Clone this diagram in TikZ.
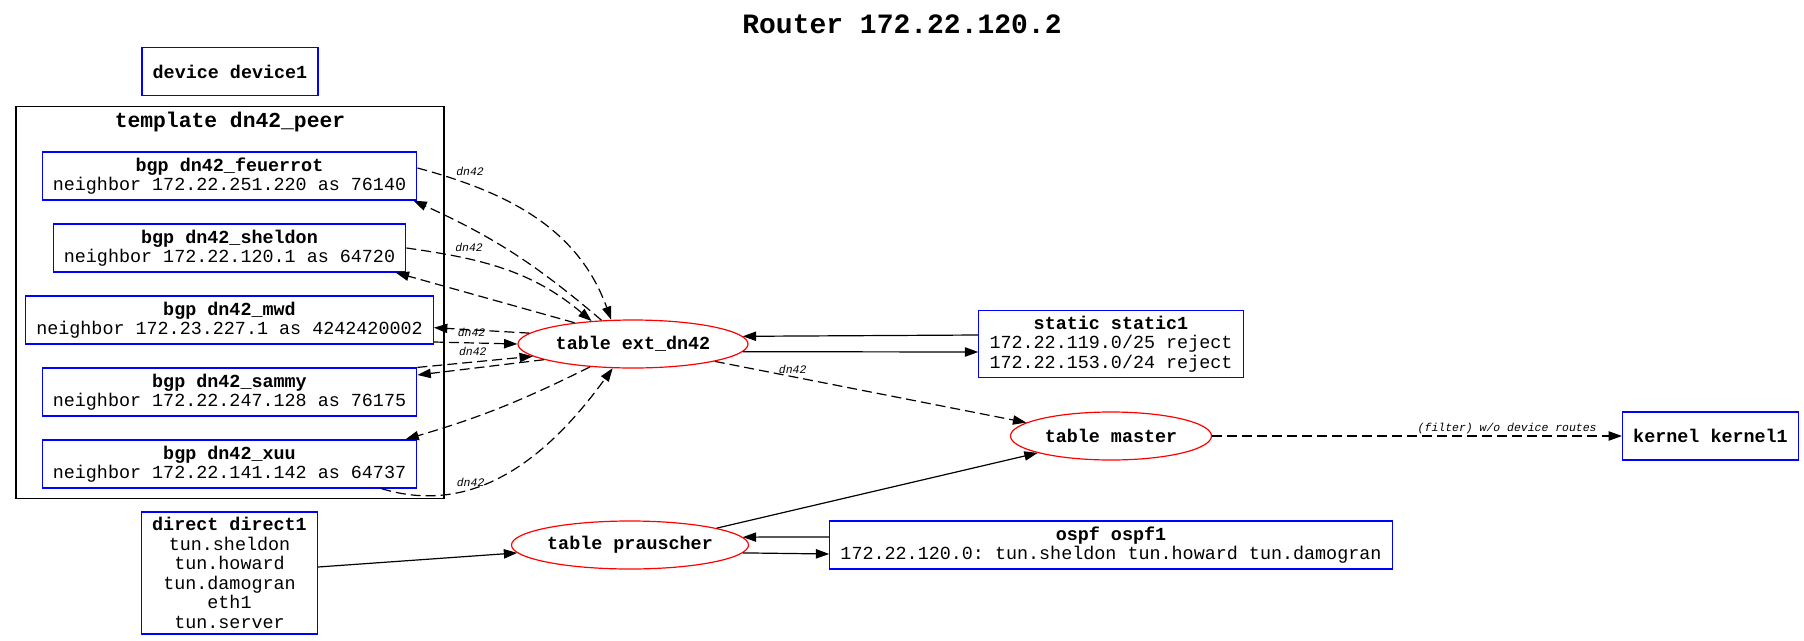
\documentclass[tikz,border=0pt]{standalone}
\usepackage{fontspec}
\setmainfont{Liberation Mono}
\usetikzlibrary{arrows.meta,positioning,shapes.geometric,fit,calc}
\definecolor{protoblue}{RGB}{0,0,255}
\definecolor{tablered}{RGB}{255,0,0}
\frenchspacing

\begin{document}
\begin{tikzpicture}[
    x=0.75pt, y=-0.75pt,
    font=\fontsize{13.8pt}{14.6pt}\selectfont,
    proto/.style={
        rectangle,
        draw=protoblue,
        line width=0.9pt,
        align=center,
        minimum height=36pt,
        inner xsep=8pt,
        inner ysep=4pt
    },
    rtable/.style={
        ellipse,
        draw=tablered,
        line width=0.9pt,
        minimum height=36pt,
        inner sep=0pt,
        font=\fontsize{13.8pt}{14.6pt}\selectfont\bfseries
    },
    cluster/.style={draw=black, line width=0.9pt, inner sep=0pt},
    conn/.style={-{Triangle[length=10pt,width=7pt]}, line width=0.9pt},
    dconn/.style={conn, dash pattern=on 7.5pt off 3.75pt},
    lbl/.style={font=\fontsize{8.6pt}{9pt}\selectfont\itshape, inner sep=1.5pt}
]
\useasboundingbox (0,0) rectangle (1804,640);

% Title
\node[font=\fontsize{21pt}{24pt}\selectfont\bfseries, anchor=base] (title) at (902,33)
    {Router 172.22.120.2};

% Protocols on the left
\node[proto] (device) at (230,71.5) {\textbf{device device1}};

\node[cluster, fit={(16,106.7) (444,498.3)}] (peer) {};
\node[font=\fontsize{16pt}{18pt}\selectfont\bfseries, anchor=base] (peertitle) at (230,127)
    {template dn42\_peer};

\node[proto] (feuerrot) at (229.5,176)
    {\textbf{bgp dn42\_feuerrot}\\neighbor 172.22.251.220 as 76140};
\node[proto] (sheldon) at (229.5,248)
    {\textbf{bgp dn42\_sheldon}\\neighbor 172.22.120.1 as 64720};
\node[proto] (mwd) at (229.5,320)
    {\textbf{bgp dn42\_mwd}\\neighbor 172.23.227.1 as 4242420002};
\node[proto] (sammy) at (229.5,392)
    {\textbf{bgp dn42\_sammy}\\neighbor 172.22.247.128 as 76175};
\node[proto] (xuu) at (229.5,464)
    {\textbf{bgp dn42\_xuu}\\neighbor 172.22.141.142 as 64737};

\node[proto, minimum height=91.5pt] (direct) at (229.5,573)
    {\textbf{direct direct1}\\tun.sheldon\\tun.howard\\tun.damogran\\eth1\\tun.server};

% Tables
\node[rtable, minimum width=172.5pt] (ext) at (633,344) {table ext\_dn42};
\node[rtable, minimum width=177.75pt] (prauscher) at (630,545) {table prauscher};
\node[rtable, minimum width=150.75pt] (master) at (1111,436) {table master};

% Protocols on the right
\node[proto, minimum height=49.5pt] (static) at (1111,344)
    {\textbf{static static1}\\172.22.119.0/25 reject\\172.22.153.0/24 reject};
\node[proto] (ospf) at (1111,545)
    {\textbf{ospf ospf1}\\172.22.120.0: tun.sheldon tun.howard tun.damogran};
\node[proto] (kernel) at (1710.5,436) {\textbf{kernel kernel1}};

% bgp peers <-> ext_dn42
\draw[dconn] ([yshift=6pt]feuerrot.east) to[out=-15,in=110]
    node[lbl, above=5pt, pos=0.2] (l1) {dn42} (ext.132);
\draw[dconn] (ext.143) to[bend right=8] ([xshift=-3pt]feuerrot.south east);
\draw[dconn] (sheldon.east) to[out=-8,in=140]
    node[lbl, above=4pt, pos=0.3] (l2) {dn42} (ext.151);
\draw[dconn] (ext.160) -- ([xshift=-8pt]sheldon.south east);
\draw[dconn] (ext.174) -- ([yshift=-5.75pt]mwd.east);
\draw[dconn] ([yshift=-16.5pt]mwd.east) --
    node[lbl, above=3pt, pos=0.45] (l3) {dn42} (ext.west);
\draw[dconn] (sammy.north east) --
    node[lbl, above=3pt, pos=0.48] (l4) {dn42} (ext.-173);
\draw[dconn] (ext.-170) -- ([yshift=12.75pt]sammy.east);
\draw[dconn] (ext.208) to[bend left=5] ([xshift=-9pt]xuu.north east);
\draw[dconn] ([xshift=-27pt]xuu.south east) to[out=-17,in=234]
    node[lbl, above, pos=0.33] (l5) {dn42} (ext.230);

% static and export to master
\draw[conn] ([yshift=6.75pt]static.west) -- (ext.4);
\draw[conn] (ext.-4) -- ([yshift=-6pt]static.west);
\draw[dconn] (ext.-12) -- node[lbl, above, pos=0.25] (l6) {dn42} (master.171);
\draw[dconn] (master) -- node[lbl, above, pos=0.72] (l7) {(filter) w/o device routes} (kernel);

% prauscher
\draw[conn] (prauscher.11) -- (master.193);
\draw[conn] ([yshift=6pt]ospf.west) -- (prauscher.4);
\draw[conn] (prauscher.-4) -- ([yshift=-6.75pt]ospf.west);
\draw[conn] ([yshift=4.5pt]direct.east) -- (prauscher.184);

\end{tikzpicture}
\end{document}
